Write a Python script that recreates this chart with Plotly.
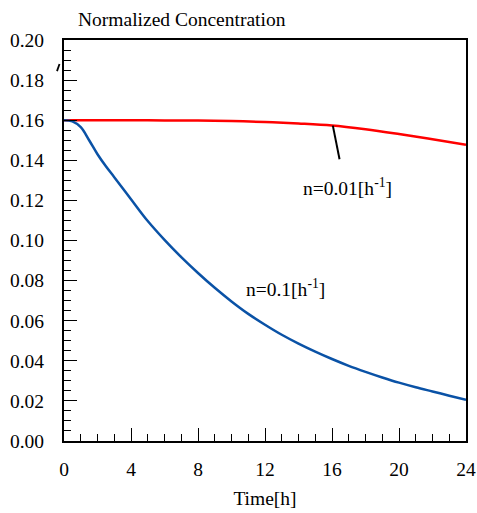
import plotly.graph_objects as go

time_h = [0, 0.5, 1, 1.5, 2, 2.5, 3, 4, 5, 6, 7, 8, 9, 10, 11, 12, 13, 14, 15, 16, 17, 18, 19, 20, 21, 22, 23, 24]
blue_n01 = [0.160, 0.1594, 0.1565, 0.1500, 0.1430, 0.1370, 0.1316, 0.1206, 0.1097, 0.1003, 0.0917, 0.0838,
            0.0764, 0.0696, 0.0634, 0.0580, 0.0530, 0.0486, 0.0446, 0.0409, 0.0375, 0.0345, 0.0317,
            0.0291, 0.0268, 0.0247, 0.0226, 0.0205]
red_time = [0, 2, 4, 6, 8, 10, 12, 14, 16, 18, 20, 22, 24]
red_n001 = [0.160, 0.160, 0.160, 0.1599, 0.1598, 0.1596, 0.1591, 0.1584, 0.1574, 0.1555, 0.1531, 0.1505, 0.1477]

x_ticks = [0, 4, 8, 12, 16, 20, 24]
y_ticks = [0.00, 0.02, 0.04, 0.06, 0.08, 0.10, 0.12, 0.14, 0.16, 0.18, 0.20]

FONT = "Liberation Serif, Times New Roman, serif"
FS = 19.5

fig = go.Figure()
fig.add_trace(go.Scatter(x=red_time, y=red_n001, mode="lines",
                         line=dict(color="#ff0000", width=2.5, shape="spline"), showlegend=False))
fig.add_trace(go.Scatter(x=time_h, y=blue_n01, mode="lines",
                         line=dict(color="#0a52a6", width=2.5, shape="spline"), showlegend=False))

axis_common = dict(showgrid=False, zeroline=False, showline=True, linecolor="black", linewidth=2,
                   mirror=True, ticks="inside", tickcolor="black", tickwidth=1.3, ticklen=13,
                   automargin=False,
                   tickfont=dict(family=FONT, size=FS, color="black"))

fig.update_xaxes(range=[0, 24], tickvals=x_ticks, ticktext=[str(v) for v in x_ticks],
                 minor=dict(dtick=1, ticks="inside", ticklen=7, tickcolor="black", tickwidth=1.3),
                 title=dict(text="Time[h]", font=dict(family=FONT, size=FS, color="black"), standoff=12),
                 ticklabelstandoff=10,
                 **axis_common)
fig.update_yaxes(range=[0, 0.20], tickvals=y_ticks, ticktext=[f"{v:.2f}" for v in y_ticks],
                 minor=dict(dtick=0.005, ticks="inside", ticklen=7, tickcolor="black", tickwidth=1.3),
                 ticklabelstandoff=14,
                 **axis_common)

# leader line for n=0.01
fig.add_shape(type="line", x0=16.05, y0=0.1573, x1=16.45, y1=0.1405,
              line=dict(color="black", width=2), xref="x", yref="y")
# small stray stroke left of the axis, near the 0.18 label
fig.add_shape(type="line", x0=(57 - 64) / 402, y0=(441 - 72) / 400, x1=(59.5 - 64) / 402, y1=(441 - 65) / 400,
              xref="paper", yref="paper", line=dict(color="black", width=1.8))

fig.add_annotation(x=16.9, y=0.1265, xref="x", yref="y", showarrow=False,
                   text="n=0.01[h<sup>-1</sup>]", font=dict(family=FONT, size=FS, color="black"))
fig.add_annotation(x=13.25, y=0.0765, xref="x", yref="y", showarrow=False,
                   text="n=0.1[h<sup>-1</sup>]", font=dict(family=FONT, size=FS, color="black"))
fig.add_annotation(x=(76 - 64) / 402, y=1 + (40 - 20) / 400, xref="paper", yref="paper", showarrow=False,
                   text="Normalized Concentration", font=dict(family=FONT, size=FS, color="black"),
                   xanchor="left", yanchor="middle")

fig.update_layout(width=477, height=513, margin=dict(l=64, r=11, t=40, b=72),
                  paper_bgcolor="white", plot_bgcolor="white",
                  font=dict(family=FONT, color="black"))

fig.write_html("out.html")
